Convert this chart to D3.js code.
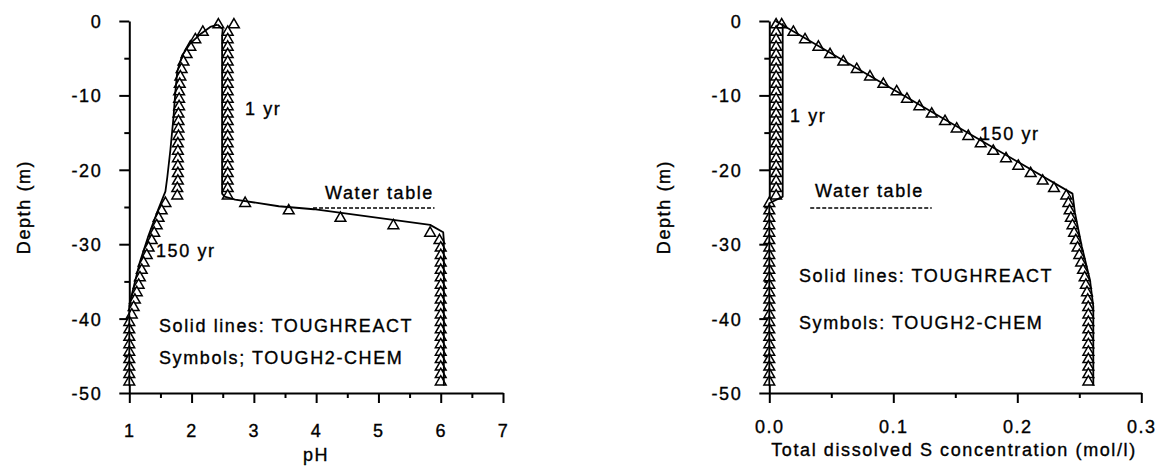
<!DOCTYPE html>
<html><head><meta charset="utf-8">
<script src="https://cdn.jsdelivr.net/npm/d3@7"></script>
<style>
body{margin:0;background:#fff;}
svg{display:block;background:#fff;}
text{font-family:"Liberation Sans",Arial,Helvetica,sans-serif;font-size:18px;letter-spacing:1.6px;fill:#000;stroke:#000;stroke-width:0.35px;}
</style></head><body>
<svg id="chart" width="1159" height="469"></svg>
<script>
// ---------- data ----------
const depthCells = [-0.5,-1.5,-2.5,-3.5,-4.5,-5.5,-6.5,-7.5,-8.5,-9.5,-10.5,-11.5,-12.5,-13.5,-14.5,-15.5,-16.5,-17.5,-18.5,-19.5,-20.5,-21.5,-22.5,-23.5,-24.5,-25.5,-26.5,-27.5,-28.5,-29.5,-30.5,-31.5,-32.5,-33.5,-34.5,-35.5,-36.5,-37.5,-38.5,-39.5,-40.5,-41.5,-42.5,-43.5,-44.5,-45.5,-46.5,-47.5,-48.5];

// pH panel, symbols (TOUGH2-CHEM)
const pH1yrSym = [2.68,2.58,2.58,2.58,2.58,2.58,2.58,2.58,2.58,2.58,2.58,2.58,2.58,2.58,2.58,2.58,2.58,2.58,2.58,2.58,2.58,2.58,2.58,2.58,2.86,3.56,4.39,5.24,5.83,5.98,6.00,6.00,6.00,6.00,6.00,6.00,6.00,6.00,6.00,6.00,6.00,6.00,6.00,6.00,6.00,6.00,6.00,6.00,6.00];
const pH150yrSym = [2.43,2.18,2.06,1.98,1.92,1.87,1.84,1.82,1.81,1.80,1.80,1.80,1.79,1.79,1.79,1.79,1.78,1.78,1.78,1.78,1.78,1.78,1.77,1.77,1.58,1.52,1.47,1.44,1.40,1.36,1.31,1.28,1.23,1.20,1.17,1.15,1.12,1.09,1.07,1.04,1.00,1.00,1.00,1.00,1.00,1.00,1.00,1.00,1.00];
// pH panel, solid lines (TOUGHREACT)
const pH1yrLine = [2.42,2.50,2.49,2.49,2.53,2.70,3.40,3.96,5.83,6.04,6.05,6.05];
const depth1yrLineL = [-0.5,-1.1,-2.0,-23.2,-23.6,-24.0,-24.9,-25.3,-27.4,-28.4,-29.5,-49.0];
const pH150yrLine = [2.42,2.30,2.15,1.98,1.85,1.77,1.74,1.71,1.66,1.61,1.58,1.47,1.31,1.17,1.04,1.00,1.00];
const depth150yrLineL = [-0.5,-0.8,-1.7,-3.0,-4.6,-6.8,-9.5,-12.9,-17.3,-21.0,-22.9,-25.2,-28.8,-32.4,-36.8,-38.3,-49.0];

// S panel, symbols (TOUGH2-CHEM)
const s1yrSym = [0.0055,0.0055,0.0055,0.0055,0.0055,0.0055,0.0055,0.0055,0.0055,0.0055,0.0055,0.0055,0.0055,0.0055,0.0055,0.0055,0.0055,0.0055,0.0055,0.0055,0.0055,0.0055,0.0055,0.0055,0,0,0,0,0,0,0,0,0,0,0,0,0,0,0,0,0,0,0,0,0,0,0,0,0];
const s150yrSym = [0.010,0.0194,0.0288,0.0396,0.049,0.0597,0.0705,0.0812,0.092,0.1027,0.111,0.121,0.131,0.1417,0.1511,0.1605,0.1705,0.1806,0.1909,0.2008,0.2108,0.2205,0.2296,0.2395,0.2412,0.2422,0.2432,0.2445,0.2458,0.2472,0.2486,0.2500,0.2515,0.2530,0.2543,0.2553,0.2562,0.2568,0.2572,0.2573,0.2573,0.2573,0.2573,0.2573,0.2573,0.2573,0.2573,0.2573,0.2573];
// S panel, solid lines (TOUGHREACT)
const s1yrLine = [0.0108,0.0108,0.0,0.0];
const depth1yrLineR = [-0.3,-23.6,-24.5,-49.0];
const s150yrLine = [0.005,0.2445,0.2465,0.252,0.2586,0.2613,0.2613];
const depth150yrLineR = [0.0,-23.2,-25.8,-30.3,-34.8,-38.4,-49.0];

// axes ticks
const depthTicks = [0,-10,-20,-30,-40,-50];
const depthMinor = [-5,-15,-25,-35,-45];
const pHTicks = [1,2,3,4,5,6,7];
const pHMinor = [1.5,2.5,3.5,4.5,5.5,6.5];
const sTicks = [0,0.1,0.2,0.3];
const sMinor = [0.05,0.15,0.25];
const waterTableDepth = -25;
const waterTablePH = [3.95,5.9];
const waterTableS = [0.033,0.131];

// ---------- drawing ----------
const svg = d3.select("#chart");
const y = d3.scaleLinear().domain([0,-50]).range([21,393]);
const xL = d3.scaleLinear().domain([1,7]).range([129.3,503]);
const xR = d3.scaleLinear().domain([0,0.3]).range([769.3,1141.3]);

function styleAxis(g){
  g.attr("font-family",null).attr("font-size",null);
  g.selectAll("path.domain").attr("stroke","#000").attr("stroke-width",2);
  g.selectAll("line").attr("stroke","#000").attr("stroke-width",2);
}

function panel(x, xTicks, xMinor, xFmt, xPad){
  const x0 = x.range()[0];
  const ga = svg.append("g").attr("transform",`translate(${x0},0)`)
    .call(d3.axisLeft(y).tickValues(depthTicks).tickSize(10).tickSizeOuter(0).tickPadding(17).tickFormat(d=>String(d)));
  styleAxis(ga);
  ga.selectAll("text").attr("dy","0.36em");
  const gm = svg.append("g").attr("transform",`translate(${x0},0)`)
    .call(d3.axisLeft(y).tickValues(depthMinor).tickSize(5).tickSizeOuter(0).tickFormat(""));
  styleAxis(gm); gm.select("path.domain").remove();

  const gx = svg.append("g").attr("transform",`translate(0,${y(-50)})`)
    .call(d3.axisBottom(x).tickValues(xTicks).tickSize(10).tickSizeOuter(0).tickPadding(xPad).tickFormat(xFmt));
  styleAxis(gx);
  const gxm = svg.append("g").attr("transform",`translate(0,${y(-50)})`)
    .call(d3.axisBottom(x).tickValues(xMinor).tickSize(5).tickSizeOuter(0).tickFormat(""));
  styleAxis(gxm); gxm.select("path.domain").remove();
}

panel(xL, pHTicks, pHMinor, d=>String(d), 21);
panel(xR, sTicks, sMinor, d3.format(".1f"), 17);

const tri = d3.symbol().type(d3.symbolTriangle).size(50);
function symbols(x, vals){
  svg.append("g").selectAll("path").data(vals).join("path")
    .attr("d", tri)
    .attr("transform",(v,i)=>`translate(${x(v)},${y(depthCells[i])})`)
    .attr("fill","#fff").attr("stroke","#000").attr("stroke-width",1.5);
}
function solid(x, vals, deps){
  const line = d3.line().x((v)=>x(v)).y((v,i)=>y(deps[i]));
  svg.append("path").attr("d", line(vals))
    .attr("fill","none").attr("stroke","#000").attr("stroke-width",1.8).attr("stroke-linejoin","round");
}

symbols(xL, pH1yrSym);
symbols(xL, pH150yrSym);
symbols(xR, s1yrSym);
symbols(xR, s150yrSym);
solid(xL, pH1yrLine, depth1yrLineL);
solid(xL, pH150yrLine, depth150yrLineL);
solid(xR, s1yrLine, depth1yrLineR);
solid(xR, s150yrLine, depth150yrLineR);

// water table dashed lines
function dashed(x, range){
  svg.append("line")
    .attr("x1",x(range[0])).attr("x2",x(range[1]))
    .attr("y1",y(waterTableDepth)+1).attr("y2",y(waterTableDepth)+1)
    .attr("stroke","#000").attr("stroke-width",1.5).attr("stroke-dasharray","4,2");
}
dashed(xL, waterTablePH);
dashed(xR, waterTableS);

// texts
function txt(s, x, yy, anchor){
  svg.append("text").attr("x",x).attr("y",yy).attr("text-anchor",anchor||"start").text(s);
}
txt("Water table", 325, 199);
txt("1 yr", 245, 115);
txt("150 yr", 156, 257);
txt("Solid lines: TOUGHREACT", 159, 332);
txt("Symbols; TOUGH2-CHEM", 159, 364);
txt("pH", 316, 461, "middle");

txt("Water table", 815, 197);
txt("1 yr", 790, 122);
txt("150 yr", 980, 140);
txt("Solid lines: TOUGHREACT", 799, 282);
txt("Symbols: TOUGH2-CHEM", 799, 329);
txt("Total dissolved S concentration (mol/l)", 954, 456, "middle");

svg.append("text").attr("transform","translate(30,207) rotate(-90)").attr("text-anchor","middle").text("Depth (m)");
svg.append("text").attr("transform","translate(670,207) rotate(-90)").attr("text-anchor","middle").text("Depth (m)");
</script>
</body></html>
